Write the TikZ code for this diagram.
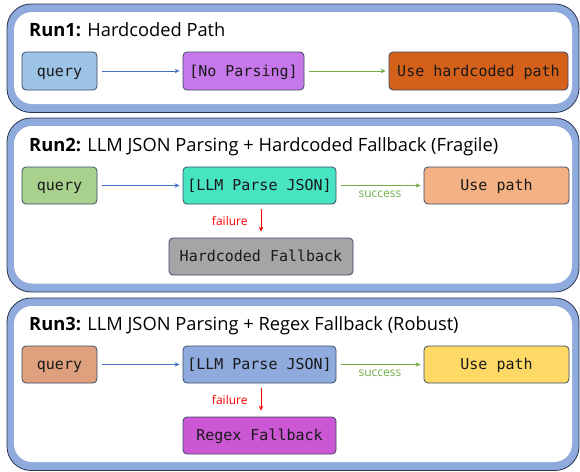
\documentclass[tikz,border=0pt]{standalone}
\usepackage{fontspec}
\setmainfont{Open Sans}
\newfontfamily\boxfont{DejaVu Sans Mono}
\usetikzlibrary{arrows.meta}

\definecolor{bandblue}{HTML}{8FAADC}
\definecolor{edgedark}{HTML}{26334F}
\definecolor{nodeedge}{HTML}{3A4A66}
\definecolor{flowblue}{HTML}{4472C4}
\definecolor{flowgreen}{HTML}{70AD47}
\definecolor{flowred}{HTML}{FF0000}
\definecolor{cQueryA}{HTML}{9DC3E6}
\definecolor{cNoParse}{HTML}{C678EA}
\definecolor{cHardUse}{HTML}{D46019}
\definecolor{cQueryB}{HTML}{A9D18E}
\definecolor{cParseB}{HTML}{47E4C2}
\definecolor{cUseB}{HTML}{F4B183}
\definecolor{cGray}{HTML}{A5A5A5}
\definecolor{cQueryC}{HTML}{DFA07E}
\definecolor{cParseC}{HTML}{8FAADC}
\definecolor{cUseC}{HTML}{FFD966}
\definecolor{cRegex}{HTML}{CB57D4}

\tikzset{
  stepbox/.style={draw=nodeedge, line width=0.8pt, rounded corners=4pt,
    inner sep=0pt, minimum height=37pt, text height=12.5pt, text depth=2.5pt,
    font=\boxfont\fontsize{15}{18}\selectfont, text=black!90},
  flow/.style={line width=0.9pt, -{Stealth[length=5pt,width=4.5pt]},
    shorten <=5pt, shorten >=3pt},
  title/.style={anchor=base west, font=\fontsize{18.3}{22}\selectfont, inner sep=0pt},
  tag/.style={font=\fontsize{12}{14}\selectfont, inner sep=1pt},
}

% a run panel: blue band with a dark outer edge and a white interior
\newcommand{\runpanel}[4]{%
  \fill[bandblue, draw=edgedark, line width=0.8pt, rounded corners=24pt]
    (#1,#2) rectangle (#3,#4);
  \fill[white, rounded corners=18pt]
    (#1+7,#2+8) rectangle (#3-7,#4-8.5);
}

\begin{document}
\begin{tikzpicture}[x=1pt, y=-1pt]
\useasboundingbox (0,0) rectangle (580,471);

% panels
\runpanel{7}{4}{579}{112.5}
\runpanel{7}{118}{579}{292}
\runpanel{7}{298}{579}{470.5}

% Run 1
\node[title] (t1) at (29,36.5) {\textbf{Run1:} Hardcoded Path};
\node[stepbox, fill=cQueryA, minimum width=75pt, minimum height=38pt] (q1) at (59.5,71) {query};
\node[stepbox, fill=cNoParse, minimum width=121pt, minimum height=38pt] (np) at (243.5,71) {[No Parsing]};
\node[stepbox, fill=cHardUse, minimum width=179pt, minimum height=38pt] (uh) at (478.5,71) {Use hardcoded path};
\draw[flow, flowblue] (q1) -- (np);
\draw[flow, flowgreen] (np) -- (uh);

% Run 2
\node[title] (t2) at (29,151.5) {\textbf{Run2:} LLM JSON Parsing + Hardcoded Fallback (Fragile)};
\node[stepbox, fill=cQueryB, minimum width=75pt] (q2) at (59.5,185.5) {query};
\node[stepbox, fill=cParseB, minimum width=153pt] (lp2) at (259.5,185.5) {[LLM Parse JSON]};
\node[stepbox, fill=cUseB, minimum width=145pt] (up2) at (496.5,185.5) {Use path};
\node[stepbox, fill=cGray, minimum width=184pt] (hf) at (261,256.5) {Hardcoded Fallback};
\draw[flow, flowblue] (q2) -- (lp2);
\draw[flow, flowgreen] (lp2) -- node[tag, below=4.5pt, text=flowgreen] (s2) {success} (up2);
\draw[flow, flowred, shorten <=5pt, shorten >=6pt]
  ([xshift=1.5pt]lp2.south) -- ([xshift=1.5pt]lp2.south |- hf.north)
  node[pos=0.5, tag, left=12pt, text=flowred] (f2) {failure};

% Run 3
\node[title] (t3) at (29,330.5) {\textbf{Run3:} LLM JSON Parsing + Regex Fallback (Robust)};
\node[stepbox, fill=cQueryC, minimum width=75pt] (q3) at (59.5,364.5) {query};
\node[stepbox, fill=cParseC, minimum width=153pt] (lp3) at (259.5,364.5) {[LLM Parse JSON]};
\node[stepbox, fill=cUseC, minimum width=145pt] (up3) at (496.5,364.5) {Use path};
\node[stepbox, fill=cRegex, minimum width=153pt] (rf) at (259.5,435.5) {Regex Fallback};
\draw[flow, flowblue] (q3) -- (lp3);
\draw[flow, flowgreen] (lp3) -- node[tag, below=4.5pt, text=flowgreen] (s3) {success} (up3);
\draw[flow, flowred, shorten <=5pt, shorten >=6pt]
  ([xshift=1.5pt]lp3.south) -- ([xshift=1.5pt]lp3.south |- rf.north)
  node[pos=0.5, tag, left=12pt, text=flowred] (f3) {failure};
\end{tikzpicture}
\end{document}
